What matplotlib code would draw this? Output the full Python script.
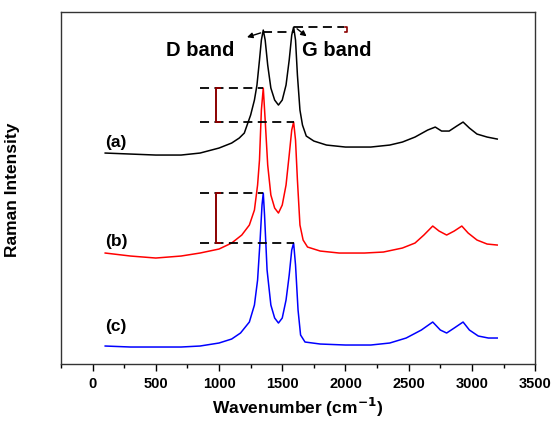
import numpy as np
import matplotlib.pyplot as plt
from matplotlib.ticker import MultipleLocator

plt.rcParams['font.family'] = ['Liberation Sans', 'DejaVu Sans']

# Raman spectra (stacked, arbitrary units)
wn_a = [100, 300, 500, 700, 850, 1000, 1100, 1160, 1200, 1250, 1280, 1300, 1320, 1335,
        1350, 1365, 1385, 1410, 1440, 1470, 1500, 1530, 1555, 1575, 1590, 1605, 1620,
        1640, 1660, 1690, 1750, 1850, 2000, 2200, 2350, 2450, 2550, 2650, 2710, 2760,
        2820, 2880, 2930, 2980, 3040, 3120, 3200]
int_a = [211, 210, 209, 209, 211, 216, 221, 226, 231, 249, 264, 279, 304, 324,
         334, 324, 299, 276, 264, 259, 264, 279, 304, 329, 337, 324, 289,
         254, 239, 228, 223, 219, 217, 217, 219, 222, 227, 234, 237, 233,
         233, 238, 242, 236, 230, 227, 225]

wn_b = [100, 300, 500, 700, 850, 1000, 1100, 1180, 1240, 1280, 1305, 1320, 1335, 1350,
        1365, 1385, 1410, 1440, 1470, 1500, 1530, 1555, 1575, 1590, 1605, 1620, 1640,
        1665, 1700, 1800, 1950, 2150, 2300, 2450, 2550, 2620, 2690, 2740, 2800, 2860,
        2920, 2970, 3040, 3120, 3200]
int_b = [111, 108, 106, 108, 111, 115, 121, 129, 139, 154, 179, 204, 254, 276,
         244, 199, 169, 156, 151, 159, 179, 209, 234, 242, 224, 184, 139,
         124, 117, 113, 111, 111, 112, 116, 121, 129, 138, 133, 129, 133,
         138, 131, 124, 120, 119]

wn_c = [100, 300, 500, 700, 850, 1000, 1100, 1170, 1240, 1280, 1305, 1325, 1340, 1350,
        1360, 1380, 1410, 1440, 1470, 1500, 1530, 1555, 1575, 1590, 1605, 1625, 1645,
        1680, 1800, 2000, 2200, 2350, 2480, 2600, 2690, 2750, 2800, 2860, 2930, 2980,
        3050, 3130, 3200]
int_c = [18, 17, 17, 17, 18, 21, 25, 31, 42, 59, 84, 124, 159, 171,
         149, 94, 59, 46, 41, 46, 64, 89, 114, 121, 99, 54, 29,
         22, 20, 19, 19, 21, 26, 34, 42, 34, 31, 36, 42, 34,
         28, 26, 26]

D_POS = 1350
G_POS = 1590


def peak(wn, inten, pos):
    return inten[wn.index(pos)]


fig = plt.figure(figsize=(5.54, 4.22), dpi=100)
ax = fig.add_axes([0.110, 0.1374, 0.856, 0.834])

ax.plot(wn_a, int_a, color='black', lw=1.1)
ax.plot(wn_b, int_b, color='red', lw=1.1)
ax.plot(wn_c, int_c, color='blue', lw=1.1)

dash = (0, (5, 3))
brk = '#8b0000'

# D/G height markers for (b) and (c)
for wn, inten in [(wn_b, int_b), (wn_c, int_c)]:
    d = peak(wn, inten, D_POS)
    g = peak(wn, inten, G_POS)
    ax.plot([850, D_POS], [d, d], color='black', lw=1.3, ls=dash)
    ax.plot([850, G_POS], [g, g], color='black', lw=1.3, ls=dash)
    ax.plot([1010, 975, 975, 1010], [d, d, g, g], color=brk, lw=1.4)

# (a): G above D
d = peak(wn_a, int_a, D_POS)
g = peak(wn_a, int_a, G_POS)
ax.plot([D_POS, G_POS], [d - 2, d - 2], color='black', lw=1.3, ls=dash)
ax.plot([G_POS, 1990], [g, g], color='black', lw=1.3, ls=dash)
ax.plot([2000, 2015, 2015, 2000], [g, g, d - 2, d - 2], color=brk, lw=1.2)

ax.annotate('', xy=(1200, 326), xytext=(D_POS, d - 2),
            arrowprops=dict(arrowstyle='-|>', color='black', lw=1, mutation_scale=8))
ax.annotate('', xy=(1710, 326), xytext=(G_POS + 10, g),
            arrowprops=dict(arrowstyle='-|>', color='black', lw=1, mutation_scale=8))
ax.text(850, 314, 'D band', fontsize=14.5, fontweight='bold', ha='center', va='center')
ax.text(1655, 314, 'G band', fontsize=14.5, fontweight='bold', ha='left', va='center')

ax.text(100, 222, '(a)', fontsize=12.5, fontweight='bold', va='center')
ax.text(100, 123, '(b)', fontsize=12.5, fontweight='bold', va='center')
ax.text(100, 38, '(c)', fontsize=12.5, fontweight='bold', va='center')

ax.set_xlim(-250, 3500)
ax.set_ylim(0, 352)
ax.xaxis.set_major_locator(MultipleLocator(500))
ax.xaxis.set_minor_locator(MultipleLocator(250))
ax.set_yticks([])
ax.tick_params(axis='x', which='major', direction='out', length=5, width=1,
               labelsize=10.5, pad=4)
ax.tick_params(axis='x', which='minor', direction='out', length=3, width=1)
for lab in ax.get_xticklabels():
    lab.set_fontweight('bold')
for sp in ax.spines.values():
    sp.set_linewidth(1)
    sp.set_color('#333333')

ax.set_xlabel('Wavenumber (cm$^{\\mathbf{-1}}$)', fontsize=12.5, fontweight='bold')
ax.xaxis.set_label_coords(0.5, -0.092)
ax.set_ylabel('Raman Intensity', fontsize=12.5, fontweight='bold')
ax.yaxis.set_label_coords(-0.087, 0.494)

fig.savefig('out.png', dpi=100)
